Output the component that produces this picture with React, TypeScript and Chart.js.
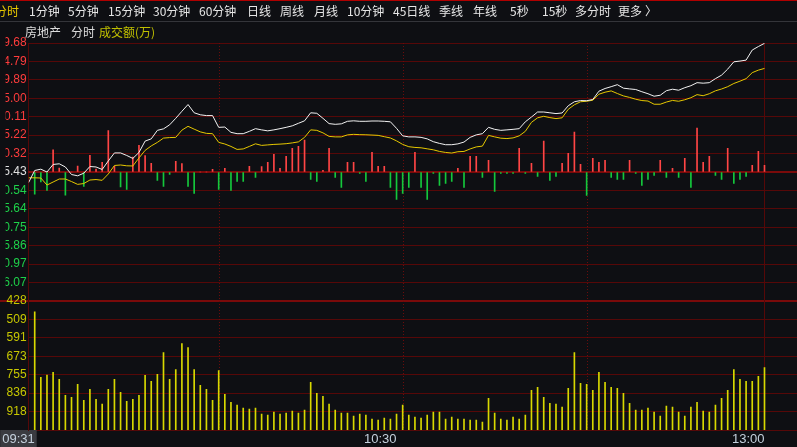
import { useEffect, useRef } from 'react';
import { Chart, registerables } from 'chart.js';

Chart.register(...registerables);

// ---- data (minute index 0 = 09:30 ... 120 = 11:30/13:00) ----
const STEP = 4.89; // price points per grid line
const PRICE_LABELS = ['9.68', '4.79', '9.89', '5.00', '0.11', '5.22', '0.32', '5.43', '0.54', '5.64', '0.75', '5.86', '0.97', '6.07'];
const VOLUME_LABELS = ['428', '509', '591', '673', '755', '836', '918'];
const X_TICK_INDEX = [1, 60, 120];
const X_TICK_TEXT = ['09:31', '10:30', '13:00'];
const HALF_HOUR_MARKS = [31, 61, 91];
const LAST_INDEX = 120;
const VOLUME_GRID_STEP = 3918.3;

// index change vs previous close (white line)
const indexChg = [
  -2.80, 0.40, 0.75, 0.00, 2.00, 2.18, 1.33, -0.67, -1.01, -0.32,
  1.46, 1.33, 0.67, 2.93, 5.06, 5.06, 4.39, 3.60, 5.19, 8.20,
  8.79, 11.05, 11.45, 12.52, 14.25, 16.11, 17.90, 15.71, 15.18, 14.97,
  14.97, 11.85, 11.93, 10.52, 10.17, 10.17, 10.79, 11.50, 11.18, 10.92,
  11.18, 11.50, 11.85, 12.25, 12.92, 13.58, 15.71, 15.58, 14.25, 12.84,
  12.65, 12.78, 13.45, 13.58, 13.45, 13.45, 13.53, 13.53, 13.45, 13.32,
  11.58, 9.59, 9.32, 9.32, 9.19, 8.79, 8.04, 7.59, 7.24, 7.24,
  7.46, 7.94, 9.19, 9.85, 10.17, 11.85, 11.32, 11.05, 11.18, 11.32,
  11.50, 13.32, 14.59, 15.92, 15.92, 15.71, 15.50, 15.66, 17.58, 18.64,
  18.96, 18.91, 19.23, 21.44, 22.16, 22.64, 23.17, 22.24, 22.05, 21.89,
  21.30, 20.77, 20.11, 20.37, 21.57, 21.97, 21.70, 22.37, 22.90, 23.70,
  23.57, 23.70, 24.77, 25.70, 27.30, 29.24, 29.43, 29.69, 32.36, 33.29,
  34.14,
];

// leading indicator change (yellow line)
const leadChg = [
  -1.54, -1.54, -1.60, -3.46, -2.66, -1.86, -1.86, -2.53, -3.28, -3.06,
  -2.13, -2.00, -2.21, -0.53, 1.73, 1.86, 1.65, 1.60, 3.73, 5.73,
  6.92, 7.86, 9.00, 9.13, 9.19, 11.10, 12.12, 11.37, 10.65, 10.25,
  10.17, 7.86, 7.43, 6.79, 5.99, 6.12, 6.79, 7.48, 7.06, 7.19,
  7.32, 7.40, 7.51, 7.72, 7.99, 9.19, 11.18, 11.05, 10.39, 9.45,
  9.32, 9.32, 9.85, 9.99, 9.91, 9.88, 9.80, 9.72, 9.37, 9.03,
  8.26, 7.32, 6.71, 6.52, 6.42, 6.15, 5.89, 5.46, 5.19, 5.03,
  5.38, 5.46, 6.12, 6.66, 6.87, 9.72, 9.32, 8.97, 8.87, 9.05,
  9.59, 10.79, 13.18, 14.38, 14.78, 14.43, 14.17, 14.38, 16.64, 17.84,
  18.64, 18.77, 19.04, 20.64, 21.17, 21.52, 20.83, 20.19, 19.79, 19.31,
  18.96, 18.83, 17.98, 17.98, 18.56, 18.99, 18.77, 19.17, 19.71, 20.53,
  20.24, 20.77, 21.54, 22.02, 22.64, 23.49, 24.10, 24.77, 26.36, 27.03,
  27.48,
];

// buy/sell strength bars (red up, green down)
const strength = [
  0, -5.86, -2.66, -4.87, 5.86, 1.07, -6.12, 0, 1.60, -3.81,
  4.45, 0.80, 2.58, 11.00, 1.52, -3.99, -4.61, 3.99, 7.11, 4.34,
  2.32, -2.21, -3.81, -0.61, 2.85, 2.21, -3.81, -5.67, 0, 0,
  0.72, -4.61, 0.99, -4.87, -2.48, -2.48, 1.52, -1.41, 1.46, 2.58,
  4.71, 0.99, 4.18, 6.31, 6.84, 8.44, -1.94, -2.48, 0.45, 6.31,
  -1.41, -4.07, 2.58, 2.58, -0.35, -2.48, 5.25, 1.52, 1.52, -4.07,
  -7.27, -5.67, -4.07, 5.25, -4.07, -7.27, -0.35, -3.54, -3.01, -2.48,
  0.99, -4.07, 4.18, 4.18, -1.41, 3.12, -5.14, -0.35, -0.35, -0.35,
  6.31, -0.35, 2.32, -1.15, 8.18, -2.21, -1.15, 2.32, 4.98, 10.57,
  2.05, -6.20, 3.65, 2.58, 3.12, -1.41, -1.94, -1.94, 3.12, -0.35,
  -3.54, -1.94, -0.88, 3.12, -1.41, 0.99, -1.41, 3.65, -4.07, 11.64,
  2.58, 4.18, -0.88, -1.94, 6.31, -3.01, -1.94, -1.15, 1.78, 5.51,
  1.78,
];

// turnover per minute (万)
const turnover = [
  null, 25107, 11182, 11667, 12237, 10760, 7384, 6962, 9705, 6329,
  8650, 6540, 5485, 8650, 10760, 8017, 6118, 6540, 7384, 11604,
  10338, 11815, 16456, 10760, 12870, 18355, 17511, 12870, 9494, 8650,
  6329, 12659, 7595, 5907, 5274, 4642, 4431, 4642, 3376, 3165,
  3798, 3376, 3587, 4009, 3587, 4220, 10127, 7806, 7173, 5485,
  4220, 3587, 3587, 2954, 3376, 3165, 2321, 2110, 2532, 2321,
  3376, 5274, 3165, 2743, 2532, 3165, 3798, 3798, 2321, 2743,
  2321, 2321, 2110, 2110, 1688, 6751, 3587, 2321, 2110, 2743,
  2321, 3165, 8439, 9072, 6962, 5696, 5485, 4853, 8861, 16456,
  9916, 9705, 8439, 12237, 10127, 9072, 8861, 7806, 5696, 4220,
  4220, 4642, 3798, 2954, 5064, 4853, 3798, 2954, 4853, 5907,
  4009, 3798, 5274, 6751, 8439, 12870, 10760, 10338, 10338, 11393,
  13292,
];

const TOOLBAR = ['分时', '1分钟', '5分钟', '15分钟', '30分钟', '60分钟', '日线', '周线', '月线', '10分钟', '45日线', '季线', '年线', '5秒', '15秒', '多分时', '更多', '〉'];
const TOOLBAR_X = [-5, 29, 68, 108, 153, 199, 247, 280, 314, 347, 393, 439, 473, 510, 542, 575, 618, 645];

// ---- style ----
const BG = '#0e0f13';
const GRID = '#560808';
const GRID_STRONG = '#7a0a0a';
const RED = '#ff4545';
const GREEN = '#14c83c';
const WHITE_LINE = '#f2f2f2';
const YELLOW_LINE = '#e6c800';
const VOL_COLOR = '#d8d800';
const FONT = '"Liberation Sans", Arial, sans-serif';
const CJK = '"Noto Sans CJK SC", "Liberation Sans", sans-serif';

const PRICE_MAX = 7 * STEP;
const AXIS_MIN = -14 * STEP;
const N_TICKS = 22;
const Y_TEXT = [...PRICE_LABELS, ...VOLUME_LABELS, ''];
const STRONG_K = [7, 14];

function labelColor(k: number) {
  if (k < 7) return '#ff3c3c';
  if (k === 7) return '#e0e0e0';
  if (k < 14) return '#1ed24a';
  return '#c8c800';
}

function hLine(ctx: any, y: number, x0: number, x1: number) {
  ctx.beginPath();
  ctx.moveTo(x0, y);
  ctx.lineTo(x1, y);
  ctx.stroke();
}

const refLines = {
  id: 'refLines',
  beforeDraw(chart: any) {
    const { ctx, scales } = chart;
    ctx.save();
    ctx.strokeStyle = GRID_STRONG;
    ctx.lineWidth = 2;
    // panel separator spans the label column too
    hLine(ctx, Math.round(scales.y.getPixelForValue(-7 * STEP)), 0, chart.width);
    ctx.restore();
  },
  beforeDatasetsDraw(chart: any) {
    const { ctx, chartArea, scales } = chart;
    const xs = scales.x;
    const ys = scales.y;
    ctx.save();
    ctx.lineWidth = 1;
    ctx.strokeStyle = '#6a0c0c';
    ctx.setLineDash([1, 2]);
    for (const v of HALF_HOUR_MARKS) {
      const px = Math.round(xs.getPixelForValue(v)) + 0.5;
      ctx.beginPath();
      ctx.moveTo(px, chartArea.top);
      ctx.lineTo(px, chartArea.bottom);
      ctx.stroke();
    }
    ctx.setLineDash([]);
    ctx.strokeStyle = GRID;
    const lx = Math.round(xs.getPixelForValue(LAST_INDEX)) + 0.5;
    ctx.beginPath();
    ctx.moveTo(lx, chartArea.top);
    ctx.lineTo(lx, chartArea.bottom);
    ctx.stroke();
    // previous close line
    ctx.strokeStyle = GRID_STRONG;
    ctx.lineWidth = 2;
    hLine(ctx, Math.round(ys.getPixelForValue(0)), chartArea.left, chartArea.right);
    ctx.restore();
  },
};

export default function App() {
  const ref = useRef<HTMLCanvasElement>(null);

  useEffect(() => {
    const canvas = ref.current;
    if (!canvas) return;
    const xy = (arr: (number | null)[]) => arr.map((v, i) => ({ x: i, y: v }));
    const chart = new Chart(canvas, {
      type: 'line',
      data: {
        datasets: [
          {
            type: 'line',
            data: xy(indexChg) as any,
            borderColor: WHITE_LINE,
            borderWidth: 1,
            pointRadius: 0,
            tension: 0,
            yAxisID: 'y',
            order: 0,
          },
          {
            type: 'line',
            data: xy(leadChg) as any,
            borderColor: YELLOW_LINE,
            borderWidth: 1,
            pointRadius: 0,
            tension: 0,
            yAxisID: 'y',
            order: 1,
          },
          {
            type: 'bar',
            data: xy(strength) as any,
            backgroundColor: strength.map((v) => (v >= 0 ? RED : GREEN)),
            barThickness: 1,
            grouped: false,
            yAxisID: 'y',
            order: 2,
          } as any,
          {
            type: 'bar',
            data: xy(turnover) as any,
            backgroundColor: VOL_COLOR,
            barThickness: 1,
            grouped: false,
            yAxisID: 'yv',
            order: 3,
          } as any,
        ],
      },
      options: {
        responsive: false,
        animation: false,
        devicePixelRatio: 1,
        layout: { padding: { top: 43, left: 0, right: 0, bottom: 0 } },
        plugins: { legend: { display: false }, tooltip: { enabled: false } },
        scales: {
          x: {
            type: 'linear',
            min: 0,
            max: 125.3,
            offset: false,
            afterBuildTicks: (scale: any) => {
              scale.ticks = X_TICK_INDEX.map((v) => ({ value: v }));
            },
            afterFit: (scale: any) => {
              scale.height = 17;
            },
            grid: { display: false, drawTicks: false },
            border: { display: true, color: GRID, width: 1 },
            ticks: {
              autoSkip: false,
              maxRotation: 0,
              align: 'end',
              padding: 2,
              color: '#c4d0dc',
              font: { family: FONT, size: 13 },
              callback: (_v: any, i: number) => X_TICK_TEXT[i],
              showLabelBackdrop: (ctx: any) => ctx.index === 0,
              backdropColor: '#3a3b40',
              backdropPadding: { left: 2, right: 2, top: 2, bottom: 3 },
            } as any,
          },
          y: {
            type: 'linear',
            position: 'left',
            min: AXIS_MIN,
            max: PRICE_MAX,
            afterBuildTicks: (scale: any) => {
              scale.ticks = Array.from({ length: N_TICKS }, (_, i) => ({ value: AXIS_MIN + i * STEP }));
            },
            afterFit: (scale: any) => {
              scale.width = 23;
            },
            grid: {
              color: (ctx: any) => (STRONG_K.includes(N_TICKS - 1 - ctx.index) ? 'rgba(0,0,0,0)' : GRID),
              lineWidth: 1,
              drawTicks: false,
            },
            border: { display: true, color: GRID, width: 1 },
            ticks: {
              autoSkip: false,
              padding: 2,
              font: { family: FONT, size: 12 },
              color: (ctx: any) => labelColor(N_TICKS - 1 - ctx.index),
              callback: (_v: any, i: number) => Y_TEXT[N_TICKS - 1 - i],
            },
          },
          yv: {
            type: 'linear',
            display: false,
            min: 0,
            max: VOLUME_GRID_STEP * 21,
          },
        },
      } as any,
      plugins: [refLines],
    });
    return () => chart.destroy();
  }, []);

  return (
    <div
      style={{
        position: 'fixed',
        left: 0,
        top: 0,
        width: 797,
        height: 447,
        background: BG,
        overflow: 'hidden',
        fontFamily: CJK,
      }}
    >
      <canvas ref={ref} width={797} height={447} style={{ position: 'absolute', left: 0, top: 0, width: 797, height: 447 }} />
      <div style={{ position: 'absolute', left: 0, top: 0, width: 797, height: 1, background: '#b00000' }} />
      <div style={{ position: 'absolute', left: 0, top: 21, width: 797, height: 1, background: '#34353a' }} />
      {TOOLBAR.map((t, i) => (
        <span
          key={t}
          style={{
            position: 'absolute',
            left: TOOLBAR_X[i],
            top: 1,
            lineHeight: '20px',
            fontSize: 12,
            whiteSpace: 'nowrap',
            color: i === 0 ? '#e8c800' : '#e6e6e6',
          }}
        >
          {t}
        </span>
      ))}
      <span style={{ position: 'absolute', left: 25, top: 22, lineHeight: '20px', fontSize: 12, color: '#dcdcdc' }}>房地产</span>
      <span style={{ position: 'absolute', left: 71, top: 22, lineHeight: '20px', fontSize: 12, color: '#dcdcdc' }}>分时</span>
      <span style={{ position: 'absolute', left: 99, top: 22, lineHeight: '20px', fontSize: 12, color: '#c0c000' }}>成交额(万)</span>
    </div>
  );
}
